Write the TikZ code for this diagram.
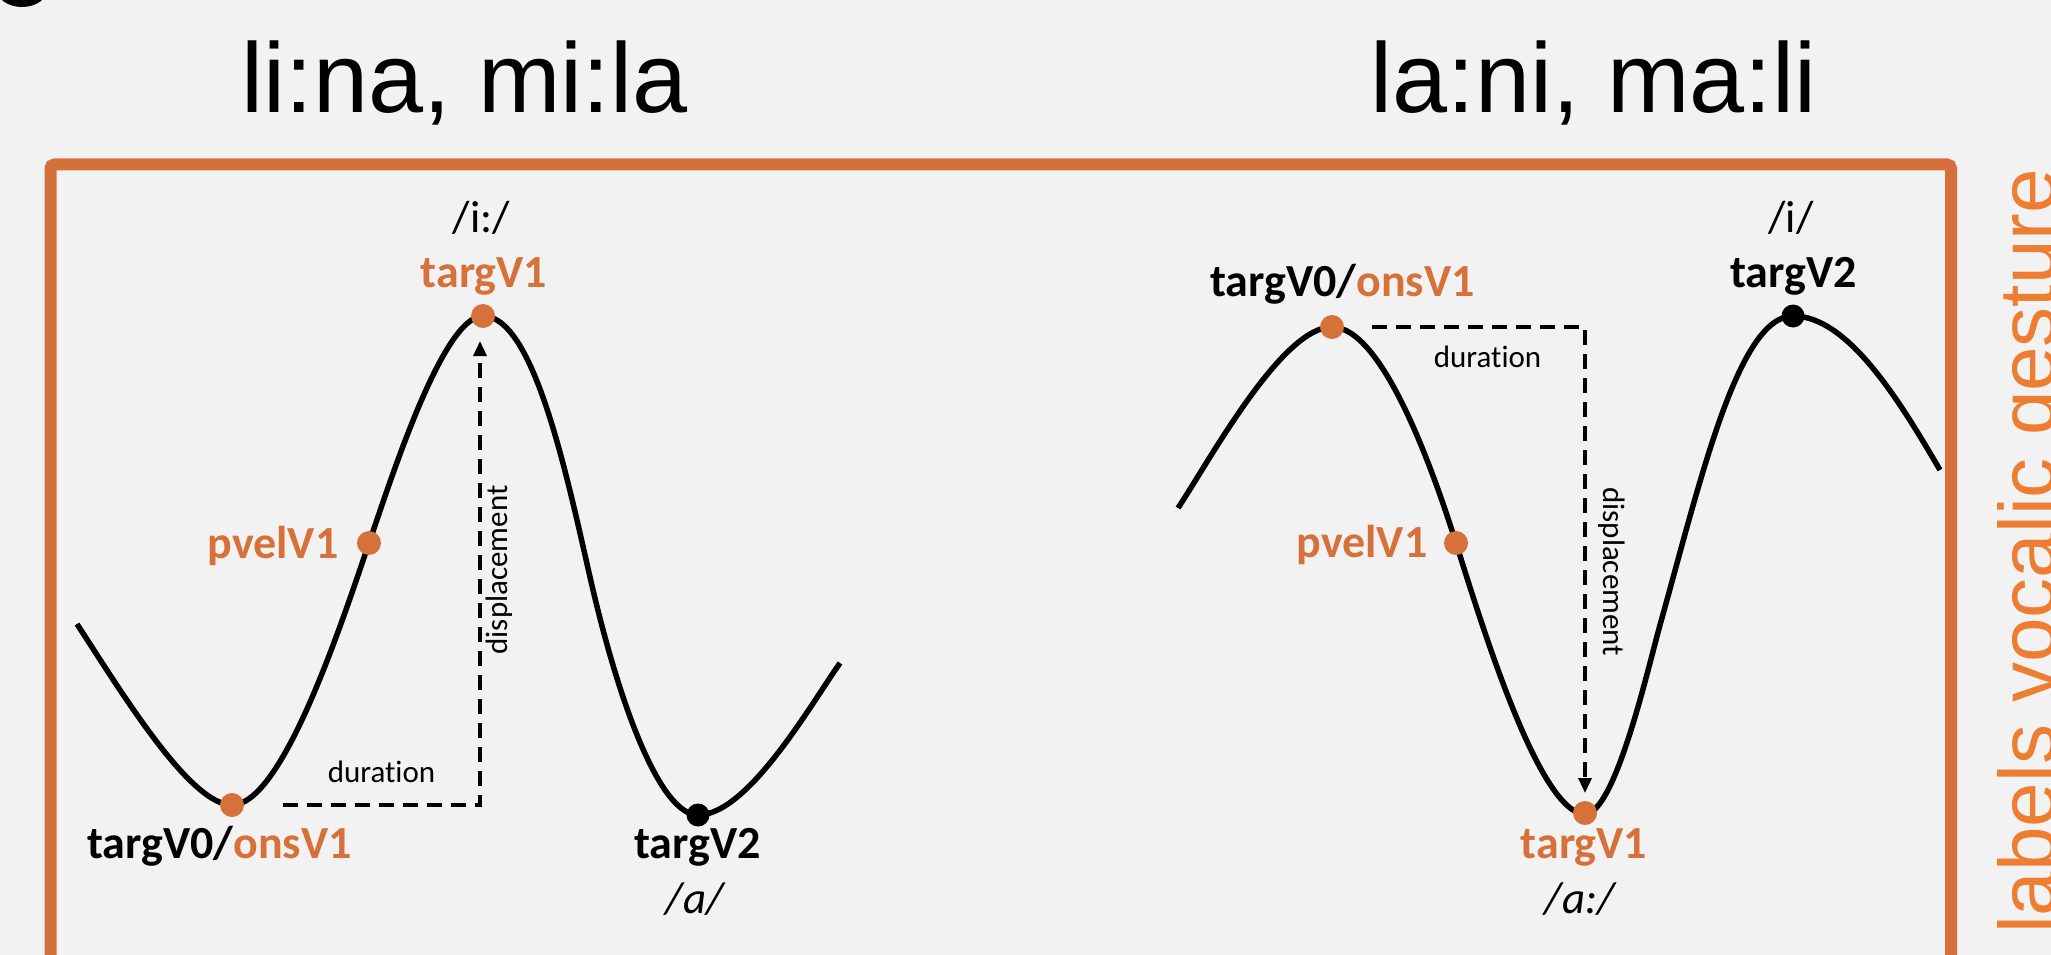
\documentclass[tikz,border=0pt]{standalone}
\usepackage{fontspec}
\setmainfont{Carlito}[Ligatures=NoCommon]
\newfontfamily\arialfont{Liberation Sans}
\usetikzlibrary{arrows.meta}

\definecolor{paper}{HTML}{F2F2F2}
\definecolor{frameor}{HTML}{D5703A}
\definecolor{markor}{HTML}{D6713A}
\definecolor{sideor}{HTML}{ED7D31}

\tikzset{
  curve/.style={line width=5.5pt, black},
  odot/.style={circle, fill=markor, minimum size=24pt, inner sep=0pt},
  bdot/.style={circle, fill=black, minimum size=23pt, inner sep=0pt},
  lab/.style={font=\fontsize{46}{55}\selectfont\bfseries, anchor=base, inner sep=0pt},
  ph/.style={font=\fontsize{45}{54}\selectfont, anchor=base, inner sep=0pt},
  phit/.style={font=\fontsize{45}{54}\selectfont\itshape, anchor=base, inner sep=0pt},
  small/.style={font=\fontsize{31}{37}\selectfont, inner sep=0pt},
  dimline/.style={line width=3.3pt, dash pattern=on 15pt off 9pt,
                  -{Triangle[length=15pt,width=13pt]}},
  title/.style={font=\arialfont\fontsize{99}{119}\selectfont, anchor=base, inner sep=0pt},
  sidetitle/.style={font=\arialfont\fontsize{80}{96}\selectfont, text=sideor,
                    rotate=90, anchor=base west, inner sep=0pt},
}

\begin{document}
\begin{tikzpicture}[x=1pt,y=-1pt]
\useasboundingbox (0,0) rectangle (2051,955);
\clip (0,0) rectangle (2051,955);
\fill[paper] (0,0) rectangle (2051,955);

% bullet of the slide heading
\fill[black] (22,-12) ellipse [x radius=26pt, y radius=19pt];

% headings
\node[title] (headL) at (464.5,113) {li:na, mi:la};
\node[title] (headR) at (1593.5,113) {la:ni, ma:li};

% frame open at the bottom
\draw[frameor, line width=12pt, rounded corners=4pt]
  (50.5,1000) -- (50.5,164.5) -- (1951,164.5) -- (1951,1000);

% side title
\node[sidetitle] (side) at (2055,934) {labels vocalic gesture};

% trajectory: li:na, mi:la
\draw[curve] (77,624) .. controls (122,693) and (190,805) .. (232,805)
  .. controls (282,805) and (340,628) .. (369,543)
  .. controls (391.8,476.9) and (443,316) .. (483,316)
  .. controls (533,316) and (565.6,469.8) .. (590,577)
  .. controls (618.9,703.8) and (660,815) .. (698,815)
  .. controls (748,815) and (811,704) .. (840,663);

% trajectory: la:ni, ma:li
\draw[curve] (1178,508) .. controls (1211,458) and (1282,327) .. (1332,327)
  .. controls (1382,327) and (1432,467) .. (1456,543)
  .. controls (1483,629) and (1540,814) .. (1585,814)
  .. controls (1615,814) and (1647.9,668.3) .. (1660,625)
  .. controls (1700.5,480.5) and (1738,316) .. (1793,316)
  .. controls (1848,316) and (1899.6,401) .. (1940,470);

% duration / displacement guides
\coordinate (durLs) at (283,805);
\coordinate (durLc) at (480,805);
\coordinate (dispLe) at (480,341);
\draw[dimline] (durLs) -- (durLc) -- (dispLe);

\coordinate (durRs) at (1372,327);
\coordinate (durRc) at (1585,327);
\coordinate (dispRe) at (1585,793);
\draw[dimline] (durRs) -- (durRc) -- (dispRe);

% landmarks
\node[odot] (onsL) at (232,805) {};
\node[odot] (pvelL) at (369,543) {};
\node[odot] (targL) at (483,316) {};
\node[bdot] (targTwoL) at (698,815) {};

\node[odot] (onsR) at (1332,327) {};
\node[odot] (pvelR) at (1456,543) {};
\node[odot] (targR) at (1585,813) {};
\node[bdot] (targTwoR) at (1793,316) {};

% labels, left
\node[ph] (vowIL) at (481.5,232) {/i:/};
\node[lab, text=markor] (labTargL) at (484,287) {targV1};
\node[lab, text=markor] (labPvelL) at (273,558) {pvelV1};
\node[lab] (labOnsL) at (219.5,858) {targV0/\textcolor{markor}{onsV1}};
\node[lab] (labTwoL) at (697.5,858) {targV2};
\node[phit] (vowAL) at (695,913) {/a/};
\node[small, anchor=base] (labDurL) at (381.5,782) {duration};
\node[small, rotate=90] (labDispL) at (499,570) {displacement};

% labels, right
\node[ph] (vowIR) at (1791,232) {/i/};
\node[lab] (labTwoR) at (1793.5,287) {targV2};
\node[lab] (labOnsR) at (1342.5,296) {targV0/\textcolor{markor}{onsV1}};
\node[lab, text=markor] (labPvelR) at (1362,557) {pvelV1};
\node[lab, text=markor] (labTargR) at (1584,858) {targV1};
\node[phit] (vowAR) at (1580,913) {/a:/};
\node[small, anchor=base] (labDurR) at (1487.5,367) {duration};
\node[small, rotate=-90] (labDispR) at (1611.7,571.7) {displacement};
\end{tikzpicture}
\end{document}
